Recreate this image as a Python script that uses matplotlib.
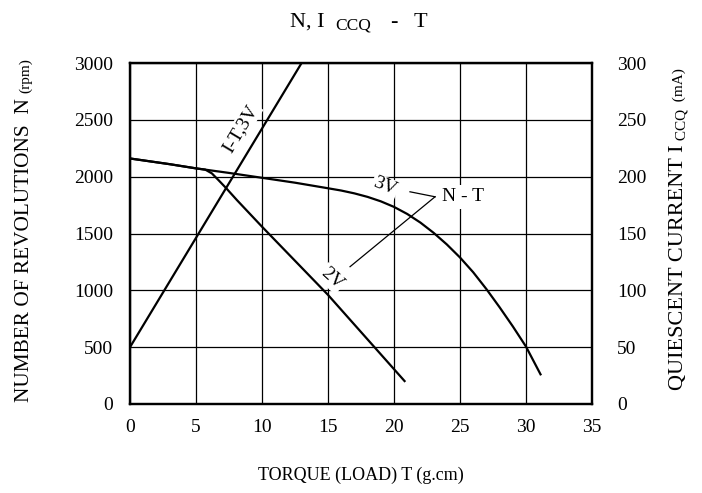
import matplotlib
matplotlib.use("Agg")
import matplotlib.pyplot as plt

plt.rcParams['font.family'] = ['Liberation Serif', 'DejaVu Serif']

# Data
torque_3v = [0, 3, 5, 7.5, 10, 12.5, 15, 16, 17, 18, 19, 20, 21, 22, 23, 24, 25, 26, 27, 28, 29, 30, 31.1]
speed_3v = [2160, 2110, 2073, 2033, 1990, 1947, 1898, 1878, 1853, 1822, 1783, 1734, 1672, 1596, 1506,
            1404, 1289, 1159, 1011, 851, 683, 505, 261]
torque_2v = [0, 3, 5, 5.7, 6.2, 6.7, 7.3, 8.1, 10, 15, 20.8]
speed_2v = [2160, 2110, 2073, 2062, 2029, 1970, 1897, 1794, 1560, 960, 202]
torque_i = [0, 13.0]
current_i = [50, 300]

x_ticks = [0, 5, 10, 15, 20, 25, 30, 35]
y_ticks = [0, 500, 1000, 1500, 2000, 2500, 3000]
y2_ticks = [0, 50, 100, 150, 200, 250, 300]

W, H = 702, 493
fig = plt.figure(figsize=(W / 100, H / 100), dpi=100)
ax = fig.add_axes([130 / W, 1 - 404 / H, 462 / W, 341 / H])
ax.set_xlim(0, 35)
ax.set_ylim(0, 3000)
ax.set_xticks(x_ticks)
ax.set_yticks(y_ticks)
ax.tick_params(axis='x', length=0, labelsize=14, pad=11)
ax.tick_params(axis='y', length=0, labelsize=14, pad=12)
ax.grid(True, color='black', linewidth=0.9, zorder=1)
for s in ax.spines.values():
    s.set_linewidth(1.6)

ax2 = ax.twinx()
ax2.set_ylim(0, 300)
ax2.set_yticks(y2_ticks)
ax2.tick_params(length=0, labelsize=14, pad=18)
for s in ax2.spines.values():
    s.set_linewidth(1.6)
ax2.set_zorder(ax.get_zorder() + 1)
ax2.patch.set_visible(False)

ax.plot(torque_3v, speed_3v, color='black', lw=1.6, zorder=4, solid_joinstyle='round')
ax.plot(torque_2v, speed_2v, color='black', lw=1.6, zorder=4, solid_joinstyle='round')
ax2.plot(torque_i, current_i, color='black', lw=1.6, zorder=4)

wb = dict(facecolor='white', edgecolor='none', pad=1.0)
ax.text(8.4, 2425, 'I-T,3V', rotation=59, fontsize=14, ha='center', va='center',
        rotation_mode='anchor', bbox=wb, zorder=3)
ax.text(19.3, 1911, '3V', rotation=-22, fontsize=14, ha='center', va='center',
        rotation_mode='anchor', bbox=wb, zorder=3)
ax.text(15.28, 1105, '2V', rotation=-42, fontsize=14, ha='center', va='center',
        rotation_mode='anchor', bbox=wb, zorder=3)
ax.text(25.25, 1823, 'N - T', fontsize=14, ha='center', va='center',
        bbox=dict(facecolor='white', edgecolor='none', pad=2.5), zorder=3)
# leader lines
ax.plot([21.21, 23.11], [1867, 1823], color='black', lw=0.9, zorder=4)
ax.plot([23.11, 16.67], [1823, 1208], color='black', lw=0.9, zorder=4)

ax.set_xlabel('TORQUE (LOAD) T (g.cm)', fontsize=13, labelpad=22)

fig.canvas.draw()
renderer = fig.canvas.get_renderer()


def seq_text(pieces, x0, y0, rotation):
    """Place text pieces one after another along a baseline starting at pixel (x0, y0 from top)."""
    x, y = x0, H - y0
    for txt, size, shift in pieces:
        if rotation == 90:
            px, py = x - shift, y
        else:
            px, py = x, y - shift
        t = fig.text(px / W, py / H, txt, fontsize=size, rotation=rotation,
                     rotation_mode='anchor', ha='left', va='baseline',
                     transform=fig.transFigure)
        bb = t.get_window_extent(renderer)
        if rotation == 90:
            y += bb.height
        else:
            x += bb.width


seq_text([('NUMBER OF REVOLUTIONS  N ', 15.3, 0), ('(rpm)', 11, 0)], 29, 402, 90)
seq_text([('QUIESCENT CURRENT I', 16, 0), (' CCQ', 11, -3), ('  (mA)', 11, 0)], 683, 390, 90)

# title pieces at explicit pixel positions (left edge, baseline from top)
fig.text(290 / W, 1 - 27 / H, 'N, I', fontsize=16, ha='left', va='baseline')
fig.text(335 / W, 1 - 30 / H, 'CCQ', fontsize=12.5, ha='left', va='baseline')
fig.text(390 / W, 1 - 27 / H, '-', fontsize=16, ha='left', va='baseline')
fig.text(414 / W, 1 - 27 / H, 'T', fontsize=16, ha='left', va='baseline')

fig.savefig('out.png', dpi=100)
